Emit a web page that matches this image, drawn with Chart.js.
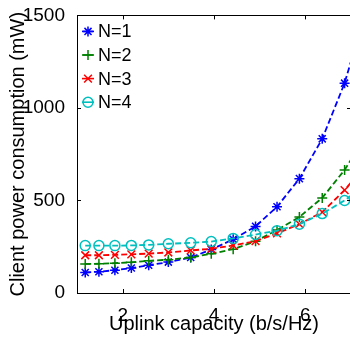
<!DOCTYPE html>
<html><head><meta charset="utf-8">
<script src="https://cdn.jsdelivr.net/npm/chart.js@4/dist/chart.umd.min.js"></script>
<style>
html,body{margin:0;padding:0;overflow:hidden;background:#fff;width:350px;height:337px}
#wrap{position:absolute;left:0;top:0;width:360px;height:337px}
</style>
</head><body><div id="wrap"><canvas id="c" width="360" height="337"></canvas></div>
<script>
// ---- data ----
const capacity = [1.18, 1.48, 1.83, 2.19, 2.57, 3.00, 3.49, 3.94, 4.42, 4.91, 5.38, 5.87, 6.37, 6.86, 7.35];
const powerN1 = [111, 115, 123, 135, 150, 167, 192, 235, 290, 360, 466, 618, 833, 1134, 1545];
const powerN2 = [157, 158, 161, 166, 174, 180, 192, 212, 237, 280, 340, 411, 514, 665, 860];
const powerN3 = [204, 204, 206, 209, 213, 219, 230, 239, 257, 280, 322, 372, 437, 556, 700];
const powerN4 = [256, 256, 256, 257, 260, 266, 271, 278, 295, 316, 337, 372, 429, 500, 590];
const seriesLabels = ['N=1', 'N=2', 'N=3', 'N=4'];
const xTicks = [2, 4, 6];
const yTicks = [0, 500, 1000, 1500];
const xTitle = 'Uplink capacity (b/s/Hz)';
const yTitle = 'Client power consumption (mW)';

const FONT = "'Liberation Sans', Arial, Helvetica, sans-serif";
const styles = [
  {color: 'rgb(0,0,255)', point: 'star', r: 5},
  {color: 'rgb(0,128,0)', point: 'cross', r: 5},
  {color: 'rgb(255,0,0)', point: 'crossRot', r: 5.5},
  {color: 'rgb(0,191,191)', point: 'circle', r: 5}
];
const allSeries = [powerN1, powerN2, powerN3, powerN4];

const datasets = allSeries.map((vals, i) => ({
  label: seriesLabels[i],
  data: vals.map((v, k) => ({x: capacity[k], y: v})),
  borderColor: styles[i].color,
  backgroundColor: 'rgba(0,0,0,0)',
  borderWidth: 1.8,
  borderDash: [6, 3],
  pointStyle: styles[i].point,
  pointRadius: styles[i].r,
  pointBorderWidth: 1.5,
  pointBorderColor: styles[i].color,
  pointBackgroundColor: 'rgba(0,0,0,0)',
  showLine: true,
  tension: 0,
  order: 3 - i
}));

const framePlugin = {
  id: 'frame',
  afterDatasetsDraw(chart) {
    const {ctx, chartArea: a, scales} = chart;
    ctx.save();
    ctx.strokeStyle = '#000';
    ctx.lineWidth = 1;
    ctx.strokeRect(Math.round(a.left) + 0.5, Math.round(a.top) + 0.5, Math.round(a.right - a.left), Math.round(a.bottom - a.top));
    const tl = 4;
    ctx.beginPath();
    xTicks.forEach(v => {
      const x = Math.round(scales.x.getPixelForValue(v)) + 0.5;
      ctx.moveTo(x, a.bottom); ctx.lineTo(x, a.bottom - tl);
      ctx.moveTo(x, a.top); ctx.lineTo(x, a.top + tl);
    });
    yTicks.forEach(v => {
      const y = Math.round(scales.y.getPixelForValue(v)) + 0.5;
      ctx.moveTo(a.left, y); ctx.lineTo(a.left + tl, y);
      ctx.moveTo(a.right, y); ctx.lineTo(a.right - tl, y);
    });
    ctx.stroke();
    // legend
    ctx.font = '18px ' + FONT;
    ctx.textBaseline = 'middle';
    ctx.textAlign = 'left';
    seriesLabels.forEach((lab, i) => {
      const y = a.top + 16 + i * 23.6;
      const mx = a.left + 11;
      ctx.strokeStyle = styles[i].color;
      ctx.fillStyle = 'rgba(0,0,0,0)';
      ctx.setLineDash([]);
      ctx.lineWidth = 1.6;
      ctx.beginPath();
      ctx.moveTo(mx - 6, y); ctx.lineTo(mx + 6, y);
      ctx.stroke();
      ctx.lineWidth = 1.5;
      Chart.helpers.drawPoint(ctx, {pointStyle: styles[i].point, radius: styles[i].r, borderWidth: 1.5, rotation: 0}, mx, y);
      ctx.fillStyle = '#000';
      ctx.fillText(lab, a.left + 21, y + 1);
    });
    ctx.restore();
  }
};

new Chart(document.getElementById('c'), {
  type: 'scatter',
  data: {datasets},
  options: {
    responsive: false,
    animation: false,
    devicePixelRatio: 1,
    layout: {padding: {top: 11, right: 9, left: 0, bottom: 0}},
    plugins: {legend: {display: false}, tooltip: {enabled: false}},
    scales: {
      x: {
        type: 'linear', min: 1, max: 7, position: 'bottom',
        grid: {display: false}, border: {display: false},
        afterBuildTicks: s => { s.ticks = xTicks.map(v => ({value: v})); },
        afterFit: s => { s.height = 44; },
        ticks: {color: '#000', font: {family: FONT, size: 19}, padding: 3, maxRotation: 0, callback: v => String(v)},
        title: {display: true, text: xTitle, color: '#000', font: {family: FONT, size: 20}, padding: {top: 0, bottom: 1}}
      },
      y: {
        type: 'linear', min: 0, max: 1500,
        grid: {display: false}, border: {display: false},
        afterBuildTicks: s => { s.ticks = yTicks.map(v => ({value: v})); },
        afterFit: s => { s.width = 77; },
        ticks: {color: '#000', font: {family: FONT, size: 19}, padding: 4, callback: v => String(v)},
        title: {display: true, text: yTitle, color: '#000', font: {family: FONT, size: 20}, padding: {top: 6, bottom: 0}}
      }
    }
  },
  plugins: [framePlugin]
});
</script>
</body></html>
